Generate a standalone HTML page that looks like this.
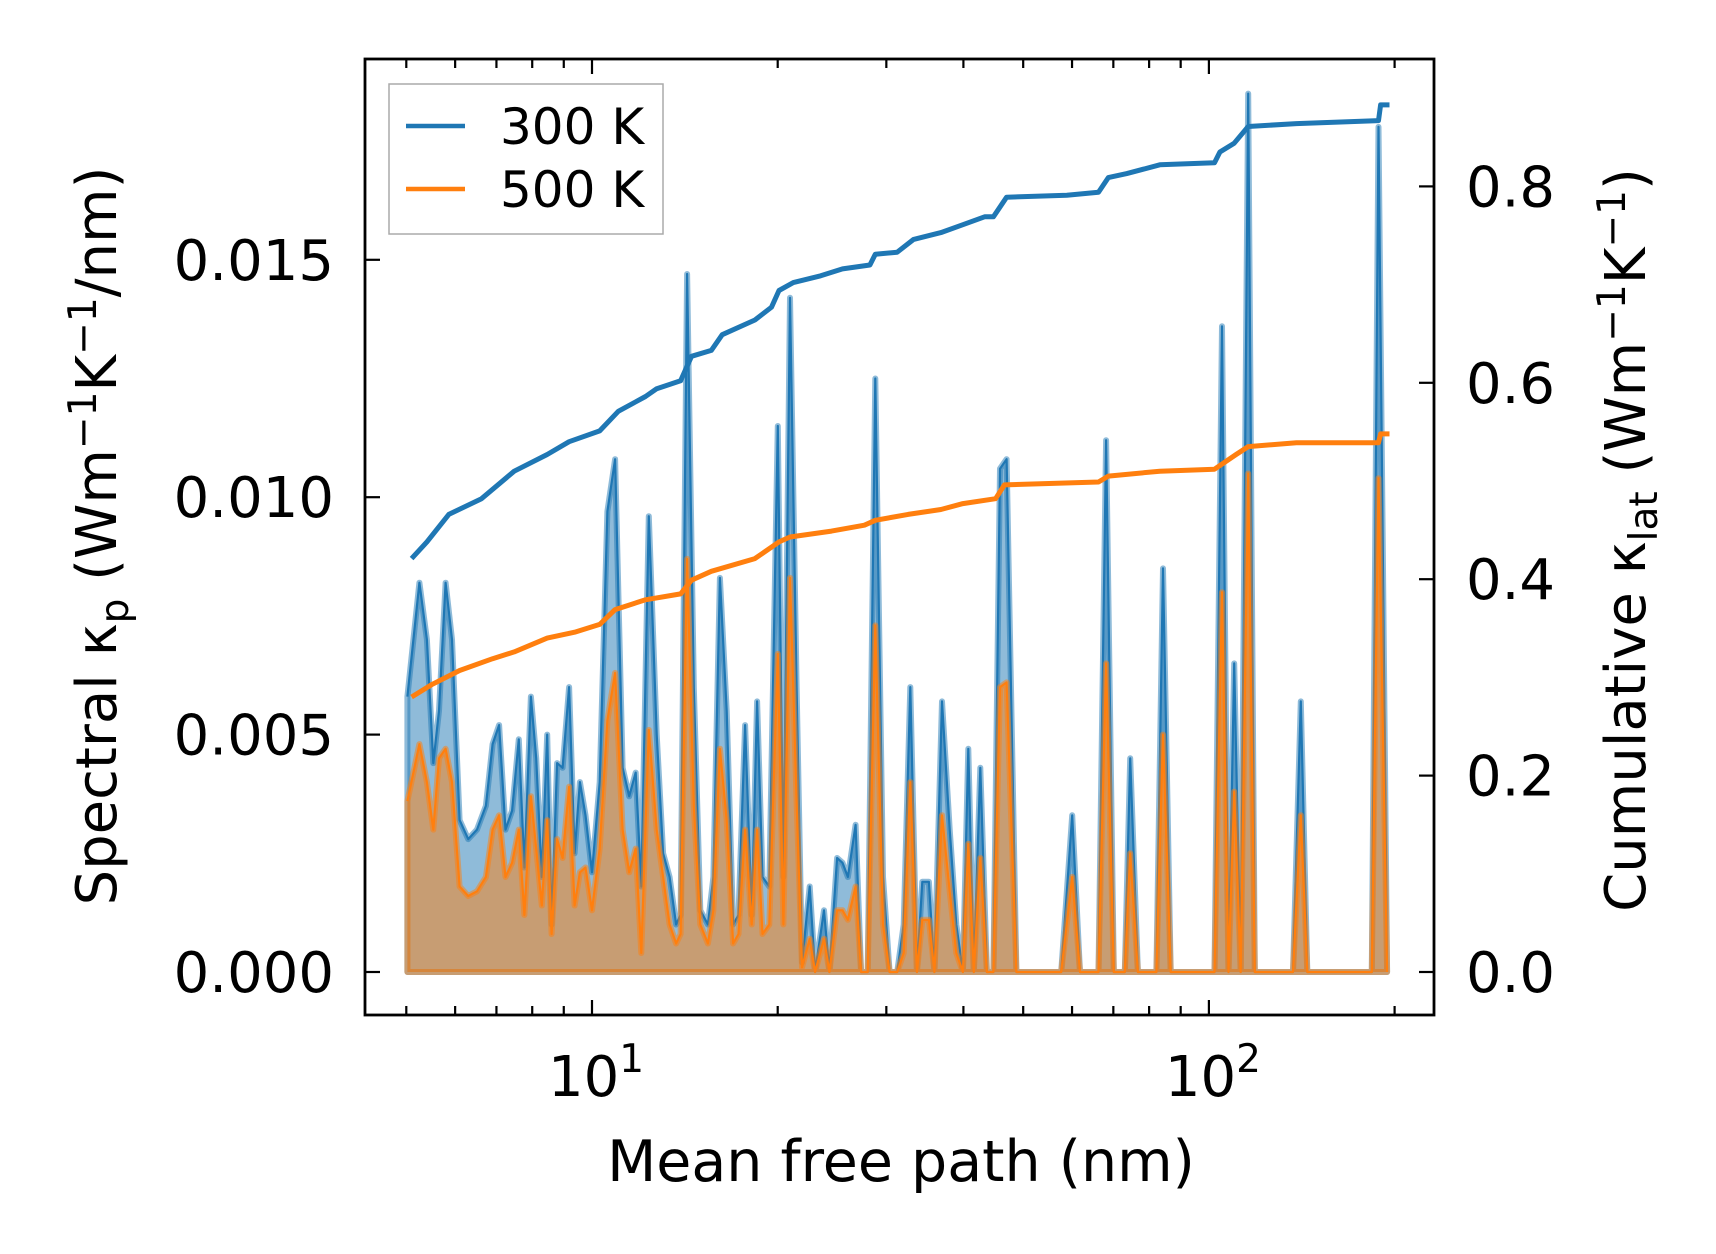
<!DOCTYPE html>
<html><head><meta charset="utf-8"><style>
html,body{margin:0;padding:0;background:#fff}
svg{display:block;font-family:"DejaVu Sans","Liberation Sans",sans-serif}
</style></head><body>
<svg id="chart" width="1716" height="1254" viewBox="0 0 1716 1254" xmlns="http://www.w3.org/2000/svg">
<defs><clipPath id="clip"><rect x="364" y="58" width="1070" height="957"/></clipPath></defs>
<g id="plot" clip-path="url(#clip)"></g>
<rect x="365" y="59" width="1069" height="956" fill="none" stroke="#000" stroke-width="2.8"/>
<g id="axes"></g>
<text x="901" y="1181" font-size="57" text-anchor="middle">Mean free path (nm)</text>
<text transform="translate(116,536) rotate(-90)" font-size="56" text-anchor="middle">Spectral κ<tspan font-size="39" dy="12">p</tspan><tspan dy="-12"> (Wm</tspan><tspan font-size="39" dy="-20">−1</tspan><tspan dy="20">K</tspan><tspan font-size="39" dy="-20">−1</tspan><tspan dy="20">/nm)</tspan></text>
<text transform="translate(1645,540) rotate(-90)" font-size="56" text-anchor="middle">Cumulative κ<tspan font-size="39" dy="12">lat</tspan><tspan dy="-12"> (Wm</tspan><tspan font-size="39" dy="-20">−1</tspan><tspan dy="20">K</tspan><tspan font-size="39" dy="-20">−1</tspan><tspan dy="20">)</tspan></text>
<g>
<rect x="389" y="84" width="274" height="150" fill="#fff" fill-opacity="0.8" stroke="#aaa" stroke-width="1.5"/>
<line x1="406" y1="126" x2="465" y2="126" stroke="#1f77b4" stroke-width="4.5"/>
<text x="500" y="144" font-size="50">300 K</text>
<line x1="406" y1="189" x2="465" y2="189" stroke="#ff7f0e" stroke-width="4.5"/>
<text x="500" y="207" font-size="50">500 K</text>
</g>
</svg>
<script>
const mfp=[5.02,5.25,5.40,5.53,5.65,5.79,5.93,6.10,6.30,6.51,6.73,6.90,7.07,7.24,7.42,7.61,7.77,7.96,8.12,8.29,8.46,8.60,8.78,8.96,9.18,9.37,9.56,9.76,10.0,10.29,10.59,10.90,11.21,11.49,11.77,12.02,12.36,12.73,13.04,13.36,13.69,13.92,14.26,14.62,14.98,15.41,15.73,16.12,16.53,16.93,17.28,17.71,18.15,18.52,18.90,19.38,20.01,20.43,20.94,21.46,21.90,22.54,23.00,23.77,24.26,24.96,25.47,25.99,26.75,27.30,27.98,28.79,29.63,30.37,31.24,32.01,32.81,33.62,34.31,35.17,35.89,36.93,38.00,38.95,39.92,40.74,41.58,42.61,43.66,44.74,45.85,46.99,48.75,57.62,60.03,61.80,66.22,68.14,70.12,73.05,74.55,76.72,82.22,84.25,86.70,102.1,105.0,107.6,109.9,112.6,115.8,118.7,136.9,140.9,144.4,183.7,188.3,194.5];
const spec300=[0.0058,0.0082,0.0070,0.0044,0.0055,0.0082,0.0070,0.0032,0.0028,0.0030,0.0035,0.0048,0.0052,0.0030,0.0034,0.0049,0.0022,0.0058,0.0045,0.0020,0.0050,0.0010,0.0044,0.0043,0.0060,0.0025,0.0040,0.0033,0.0021,0.0040,0.0097,0.0108,0.0043,0.0037,0.0042,0.0018,0.0096,0.0050,0.0025,0.0020,0.0010,0.0012,0.0147,0.0060,0.0013,0.0010,0.0020,0.0083,0.0055,0.0010,0.0012,0.0052,0.0012,0.0057,0.0020,0.0018,0.0115,0.0020,0.0142,0.0060,0.0002,0.0018,0.0,0.0013,0.0,0.0024,0.0023,0.0020,0.0031,0.0,0.0,0.0125,0.0020,0.0,0.0,0.0010,0.0060,0.0,0.0019,0.0019,0.0,0.0057,0.0030,0.0010,0.0,0.0047,0.0,0.0043,0.0,0.0,0.0106,0.0108,0.0,0.0,0.0033,0.0,0.0,0.0112,0.0,0.0,0.0045,0.0,0.0,0.0085,0.0,0.0,0.0136,0.0,0.0065,0.0,0.0185,0.0,0.0,0.0057,0.0,0.0,0.0178,0.0];
const spec500=[0.0036,0.0048,0.0040,0.0030,0.0045,0.0047,0.0040,0.0018,0.0016,0.0017,0.0020,0.0030,0.0033,0.0020,0.0023,0.0030,0.0012,0.0037,0.0026,0.0014,0.0032,0.0008,0.0028,0.0024,0.0039,0.0014,0.0021,0.0022,0.0013,0.0026,0.0053,0.0063,0.0030,0.0021,0.0026,0.0004,0.0051,0.0030,0.0020,0.0010,0.0006,0.0008,0.0087,0.0035,0.0010,0.0006,0.0013,0.0047,0.0032,0.0006,0.0008,0.0030,0.0010,0.0030,0.0008,0.0010,0.0067,0.0010,0.0083,0.0036,0.0001,0.0007,0.0,0.0007,0.0,0.0013,0.0013,0.0011,0.0018,0.0,0.0,0.0073,0.0010,0.0,0.0,0.0004,0.0040,0.0,0.0011,0.0011,0.0,0.0033,0.0017,0.0004,0.0,0.0027,0.0,0.0024,0.0,0.0,0.0060,0.0061,0.0,0.0,0.0020,0.0,0.0,0.0065,0.0,0.0,0.0025,0.0,0.0,0.0050,0.0,0.0,0.0080,0.0,0.0038,0.0,0.0105,0.0,0.0,0.0033,0.0,0.0,0.0104,0.0];
const cumX300=[5.10,5.40,5.86,6.62,7.48,8.46,9.18,10.29,11.03,12.21,12.73,13.92,14.50,15.61,16.26,18.37,19.54,20.10,21.20,23.48,25.47,28.21,28.79,31.24,33.21,36.78,39.92,43.30,44.74,46.99,58.84,66.22,68.70,73.62,83.24,102.1,104.2,109.9,115.8,138.6,188.3,189.8,196.2];
const cum300=[0.421,0.438,0.466,0.482,0.510,0.527,0.540,0.551,0.571,0.586,0.594,0.602,0.627,0.633,0.649,0.664,0.677,0.694,0.702,0.709,0.716,0.720,0.731,0.733,0.746,0.753,0.761,0.769,0.769,0.789,0.791,0.794,0.809,0.813,0.822,0.824,0.835,0.844,0.861,0.864,0.867,0.883,0.883];
const cumX500=[5.10,5.51,6.10,6.90,7.48,8.46,9.37,10.29,10.90,12.21,13.92,14.50,15.61,18.37,20.10,20.94,24.45,27.64,28.79,32.54,36.78,39.92,45.11,46.61,66.22,68.70,83.24,102.1,110.7,115.8,138.6,188.3,189.8,196.2];
const cum500=[0.280,0.293,0.307,0.319,0.326,0.340,0.346,0.354,0.369,0.379,0.385,0.399,0.408,0.421,0.438,0.443,0.449,0.455,0.460,0.466,0.471,0.477,0.482,0.496,0.499,0.505,0.510,0.512,0.527,0.535,0.539,0.539,0.548,0.548];
const leftTicks=[0,0.005,0.010,0.015];
const leftTickLabels=["0.000","0.005","0.010","0.015"];
const rightTicks=[0,0.2,0.4,0.6,0.8];
const rightTickLabels=["0.0","0.2","0.4","0.6","0.8"];

const NS="http://www.w3.org/2000/svg";
const X=v=>592+616.9*Math.log10(v/10);
const YL=v=>972-v/0.005*237.4;
const YR=v=>972-v/0.2*196.4;
const plot=document.getElementById('plot'), axes=document.getElementById('axes');
function mk(tag,attrs,parent){const e=document.createElementNS(NS,tag);for(const k in attrs)e.setAttribute(k,attrs[k]);parent.appendChild(e);return e;}
function linePts(xs,ys,fy){return xs.map((x,i)=>X(x).toFixed(1)+','+fy(ys[i]).toFixed(1)).join(' ');}
function area(xs,ys,color,name){
  const pts=linePts(xs,ys,YL)+' '+X(xs[xs.length-1]).toFixed(1)+','+YL(0)+' '+X(xs[0]).toFixed(1)+','+YL(0);
  const p=mk('polygon',{points:pts,fill:color,'fill-opacity':0.5,stroke:color,'stroke-opacity':0.5,'stroke-width':6,'stroke-linejoin':'round'},plot);
  
  
  const l=mk('polyline',{points:linePts(xs,ys,YL),fill:'none',stroke:color,'stroke-width':2.2,'stroke-linejoin':'round'},plot);
  
  
}
area(mfp,spec300,'#1f77b4','spectral-300k');
area(mfp,spec500,'#ff7f0e','spectral-500k');
const c3=mk('polyline',{points:linePts(cumX300,cum300,YR),fill:'none',stroke:'#1f77b4','stroke-width':5,'stroke-linejoin':'round'},plot);


const c5=mk('polyline',{points:linePts(cumX500,cum500,YR),fill:'none',stroke:'#ff7f0e','stroke-width':5,'stroke-linejoin':'round'},plot);



const xt=[];
for(const dec of [1,10,100]){for(let m=1;m<10;m++){const v=m*dec;const px=X(v);if(px>366&&px<1432)xt.push([v,px,m===1]);}}
xt.forEach(([v,px,major])=>{
  const len=major?15:9;
  const t1=mk('line',{x1:px,y1:1015,x2:px,y2:1015-len,stroke:'#000','stroke-width':2.2},axes);
  
  
  const t2=mk('line',{x1:px,y1:59,x2:px,y2:59+len,stroke:'#000','stroke-width':2.2},axes);
  
  
  if(major){
    const tx=mk('text',{x:px+4,y:1096,'font-size':56,'text-anchor':'middle'},axes);
    
    
    tx.innerHTML='10<tspan font-size="39" dy="-24">'+Math.round(Math.log10(v))+'</tspan>';
  }
});
leftTicks.forEach((v,i)=>{
  const y=YL(v);
  const t=mk('line',{x1:365,y1:y,x2:380,y2:y,stroke:'#000','stroke-width':2.2},axes);
  
  
  const tx=mk('text',{x:334,y:y+20,'font-size':56,'text-anchor':'end'},axes);
  
  
  tx.textContent=leftTickLabels[i];
});
rightTicks.forEach((v,i)=>{
  const y=YR(v);
  const t=mk('line',{x1:1434,y1:y,x2:1419,y2:y,stroke:'#000','stroke-width':2.2},axes);
  
  
  const tx=mk('text',{x:1466,y:y+20,'font-size':56,'text-anchor':'start'},axes);
  
  
  tx.textContent=rightTickLabels[i];
});
</script>
</body></html>
